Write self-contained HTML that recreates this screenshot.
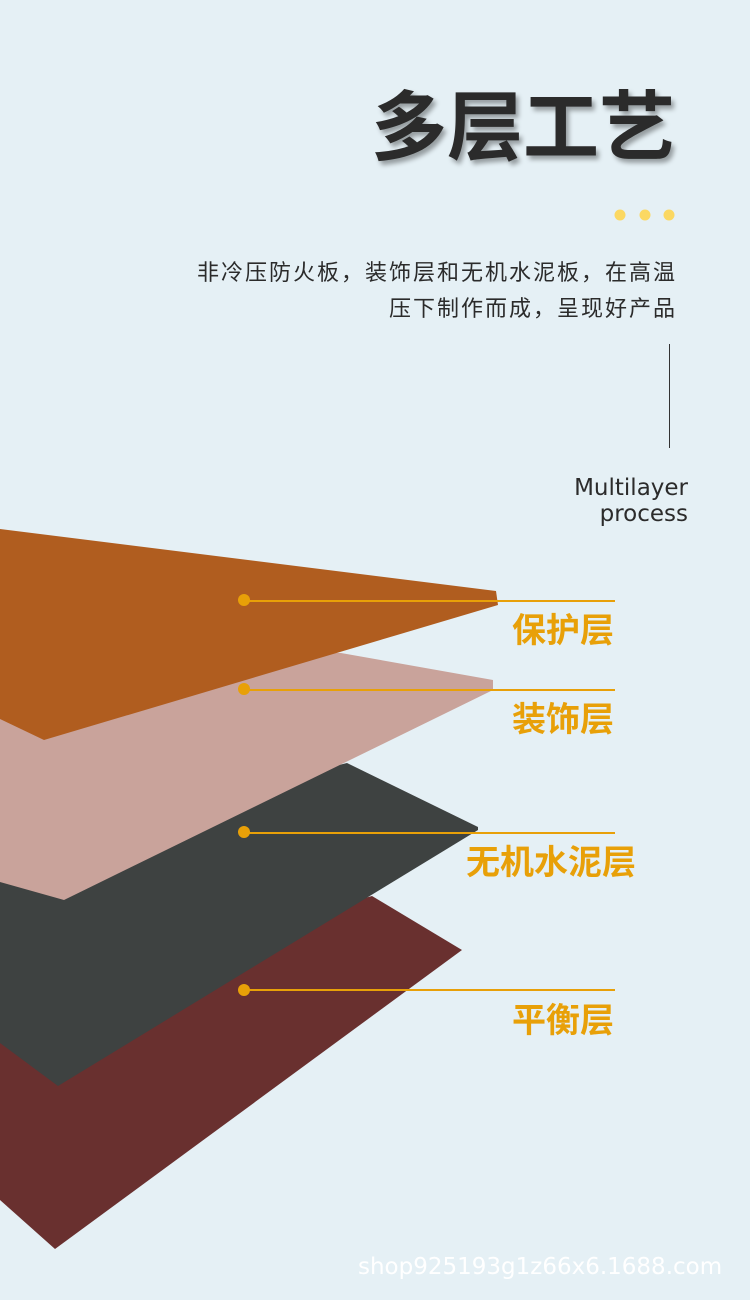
<!DOCTYPE html>
<html><head><meta charset="utf-8"><style>
body{margin:0;width:750px;height:1300px;background:#e5f0f5;position:relative;overflow:hidden;font-family:"Liberation Sans","Noto Sans CJK SC",sans-serif}
.t{position:absolute;white-space:nowrap}
</style></head><body>
<svg width="750" height="1300" style="position:absolute;left:0;top:0">
<polygon points="0,1000 372,896 462,950 55,1249 0,1200" fill="#69302f"/>
<polygon points="0,850 347,763 478,827 478,830 58,1086 0,1043" fill="#3e4241"/>
<polygon points="0,640 341,653 493,680 493,690 64,900 0,882" fill="#c9a39b"/>
<polygon points="0,529 496,591 498,605 44,740 0,719" fill="#b05d1f"/>
<g stroke="#e8a008" stroke-width="2">
<line x1="244" y1="601" x2="615" y2="601"/>
<line x1="244" y1="690" x2="615" y2="690"/>
<line x1="244" y1="833" x2="615" y2="833"/>
<line x1="244" y1="990" x2="615" y2="990"/>
</g>
<g fill="#e8a008">
<circle cx="244" cy="600" r="6"/><circle cx="244" cy="689" r="6"/><circle cx="244" cy="832" r="6"/><circle cx="244" cy="990" r="6"/>
</g>
<g fill="#fbd862"><circle cx="620" cy="215" r="5.5"/><circle cx="645" cy="215" r="5.5"/><circle cx="669" cy="215" r="5.5"/></g>
<line x1="669.5" y1="344" x2="669.5" y2="448" stroke="#333" stroke-width="1"/>
</svg>
<div class="t" style="right:75px;top:66px;font-size:76px;font-weight:bold;color:#2b2b2b;text-shadow:3px 4px 5px rgba(0,0,0,0.35)">多层工艺</div>
<div class="t" style="right:73px;top:255px;font-size:22px;letter-spacing:2px;color:#2b2b2b;text-align:right;line-height:36px">非冷压防火板，装饰层和无机水泥板，在高温<br>压下制作而成，呈现好产品</div>
<div class="t" style="right:62px;top:475px;font-size:23px;color:#2b2b2b;text-align:right;line-height:26px;font-family:'DejaVu Sans',sans-serif">Multilayer<br>process</div>
<div class="t" style="right:136px;top:603px;font-size:34px;font-weight:bold;color:#e8a008">保护层</div>
<div class="t" style="right:136px;top:692px;font-size:34px;font-weight:bold;color:#e8a008">装饰层</div>
<div class="t" style="right:114px;top:835px;font-size:34px;font-weight:bold;color:#e8a008">无机水泥层</div>
<div class="t" style="right:136px;top:993px;font-size:34px;font-weight:bold;color:#e8a008">平衡层</div>
<div class="t" style="left:358px;top:1254px;font-size:23px;color:#fff;font-family:'DejaVu Sans',sans-serif">shop925193g1z66x6.1688.com</div>
</body></html>
